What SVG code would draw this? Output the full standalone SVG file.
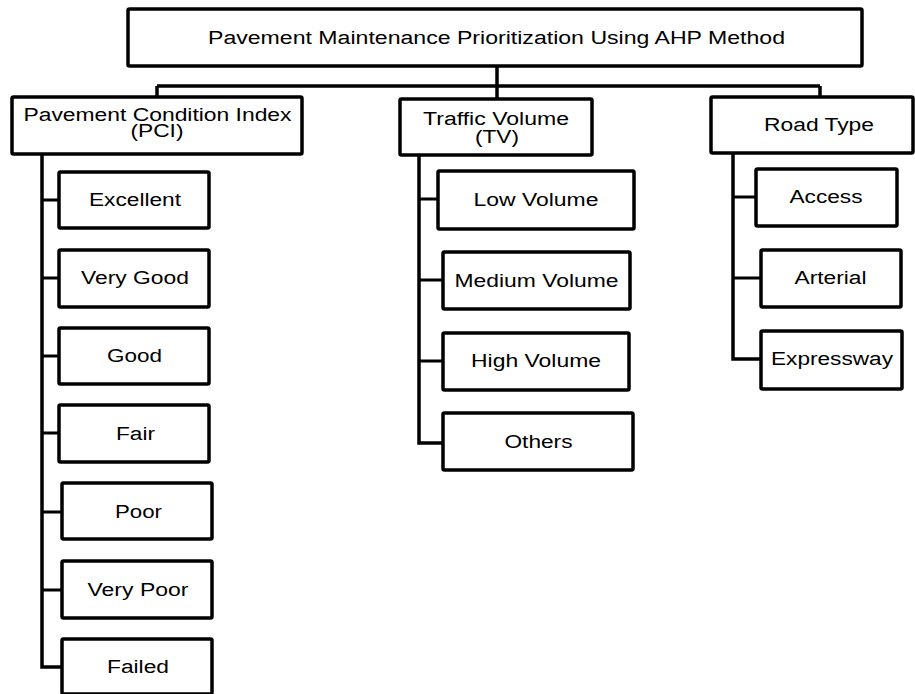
<svg xmlns="http://www.w3.org/2000/svg" width="915" height="694" viewBox="0 0 915 694">
<style>
.box{fill:#fff;stroke:#000;stroke-width:3.5}
.t{font-family:"Liberation Sans",Arial,sans-serif;font-size:18px;fill:#000;text-anchor:middle}
.c{fill:none;stroke:#000;stroke-width:3.5;stroke-linejoin:miter}
.s{fill:none;stroke:#000;stroke-width:2.8}
</style>
<rect width="915" height="694" fill="#fff"/>
<g id="connectors">
<path class="c" d="M497 66 V86 M157 86 H820 M157 86 V97 M497 86 V99 M820 86 V97"/>
<path class="c" d="M42 154 V667 H62"/>
<path class="s" d="M42 200 H59 M42 278 H59 M42 356 H59 M42 433 H59 M42 512 H62 M42 590 H62"/>
<path class="c" d="M419 155 V443 H443"/>
<path class="s" d="M419 199 H438 M419 280 H443 M419 361 H443"/>
<path class="c" d="M733 153 V359 H761"/>
<path class="s" d="M733 197 H756 M733 278 H761"/>
</g>
<g id="root"><rect class="box" x="128" y="9" width="734" height="57" rx="1.5"/><text class="t" x="496.5" y="44" textLength="577" lengthAdjust="spacingAndGlyphs">Pavement Maintenance Prioritization Using AHP Method</text></g>
<g id="pci"><rect class="box" x="12" y="97" width="290" height="57" rx="1.5"/><text class="t"><tspan x="157.5" y="121" textLength="268" lengthAdjust="spacingAndGlyphs">Pavement Condition Index</tspan><tspan x="157" y="137" textLength="53" lengthAdjust="spacingAndGlyphs">(PCI)</tspan></text></g>
<g id="tv"><rect class="box" x="400" y="99" width="192" height="56" rx="1.5"/><text class="t"><tspan x="496" y="125" textLength="146" lengthAdjust="spacingAndGlyphs">Traffic Volume</tspan><tspan x="497" y="143" textLength="44" lengthAdjust="spacingAndGlyphs">(TV)</tspan></text></g>
<g id="roadtype"><rect class="box" x="711" y="97" width="202" height="56" rx="1.5"/><text class="t" x="819" y="131" textLength="110" lengthAdjust="spacingAndGlyphs">Road Type</text></g>
<g id="excellent"><rect class="box" x="59" y="172" width="150" height="56" rx="1.5"/><text class="t" x="135" y="206" textLength="92" lengthAdjust="spacingAndGlyphs">Excellent</text></g>
<g id="verygood"><rect class="box" x="59" y="250" width="150" height="57" rx="1.5"/><text class="t" x="135" y="284" textLength="108" lengthAdjust="spacingAndGlyphs">Very Good</text></g>
<g id="good"><rect class="box" x="59" y="328" width="150" height="56" rx="1.5"/><text class="t" x="134.5" y="362" textLength="55" lengthAdjust="spacingAndGlyphs">Good</text></g>
<g id="fair"><rect class="box" x="59" y="405" width="150" height="57" rx="1.5"/><text class="t" x="135.5" y="440" textLength="39" lengthAdjust="spacingAndGlyphs">Fair</text></g>
<g id="poor"><rect class="box" x="62" y="483" width="150" height="56" rx="1.5"/><text class="t" x="138.5" y="518" textLength="47" lengthAdjust="spacingAndGlyphs">Poor</text></g>
<g id="verypoor"><rect class="box" x="62" y="561" width="150" height="57" rx="1.5"/><text class="t" x="138" y="596" textLength="101" lengthAdjust="spacingAndGlyphs">Very Poor</text></g>
<g id="failed"><rect class="box" x="62" y="639" width="150" height="55" rx="1.5"/><text class="t" x="138" y="673" textLength="62" lengthAdjust="spacingAndGlyphs">Failed</text></g>
<g id="lowvolume"><rect class="box" x="438" y="171" width="196" height="58" rx="1.5"/><text class="t" x="536" y="206" textLength="125" lengthAdjust="spacingAndGlyphs">Low Volume</text></g>
<g id="mediumvolume"><rect class="box" x="443" y="252" width="187" height="57" rx="1.5"/><text class="t" x="536.5" y="287" textLength="164" lengthAdjust="spacingAndGlyphs">Medium Volume</text></g>
<g id="highvolume"><rect class="box" x="443" y="333" width="186" height="57" rx="1.5"/><text class="t" x="536" y="367" textLength="130" lengthAdjust="spacingAndGlyphs">High Volume</text></g>
<g id="others"><rect class="box" x="443" y="413" width="190" height="57" rx="1.5"/><text class="t" x="538.5" y="448" textLength="68" lengthAdjust="spacingAndGlyphs">Others</text></g>
<g id="access"><rect class="box" x="756" y="169" width="141" height="57" rx="1.5"/><text class="t" x="826" y="203" textLength="73" lengthAdjust="spacingAndGlyphs">Access</text></g>
<g id="arterial"><rect class="box" x="761" y="250" width="140" height="57" rx="1.5"/><text class="t" x="830.5" y="284" textLength="72" lengthAdjust="spacingAndGlyphs">Arterial</text></g>
<g id="expressway"><rect class="box" x="761" y="331" width="141" height="58" rx="1.5"/><text class="t" x="832" y="365" textLength="122" lengthAdjust="spacingAndGlyphs">Expressway</text></g>
</svg>
